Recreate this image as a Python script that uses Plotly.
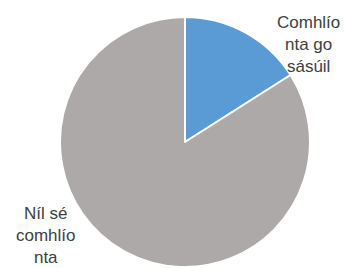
import plotly.graph_objects as go

categories = ["Comhlíonta go sásúil", "Níl sé comhlíonta"]
values = [16, 84]
label_lines = [["Comhlío", "nta go", "sásúil"], ["Níl sé", "comhlío", "nta"]]
colors = ["#5B9BD5", "#ADA9A9"]

W, H = 346, 268
fig = go.Figure(go.Pie(
    labels=categories,
    values=values,
    sort=False,
    direction="clockwise",
    rotation=0,
    marker=dict(colors=colors, line=dict(color="white", width=2)),
    textinfo="none",
    hoverinfo="label+percent",
    domain=dict(x=[60 / W, 310 / W], y=[1 / H, 251 / H]),
    showlegend=False,
))

label_pos = [(308 / W, 1 - 45 / H), (46 / W, 1 - 235 / H)]
for lines, (x, y) in zip(label_lines, label_pos):
    fig.add_annotation(
        text="<br>".join(lines), x=x, y=y, xref="paper", yref="paper",
        showarrow=False, xanchor="center", yanchor="middle", align="center",
        font=dict(family="Liberation Sans", size=17, color="#404040"),
    )

fig.update_layout(
    width=W, height=H,
    margin=dict(l=0, r=0, t=0, b=0),
    paper_bgcolor="white", plot_bgcolor="white",
)
fig.write_html(
    "out.html",
    config={"displayModeBar": False},
    post_script="document.body.style.margin='0';document.body.style.overflow='hidden';",
)
